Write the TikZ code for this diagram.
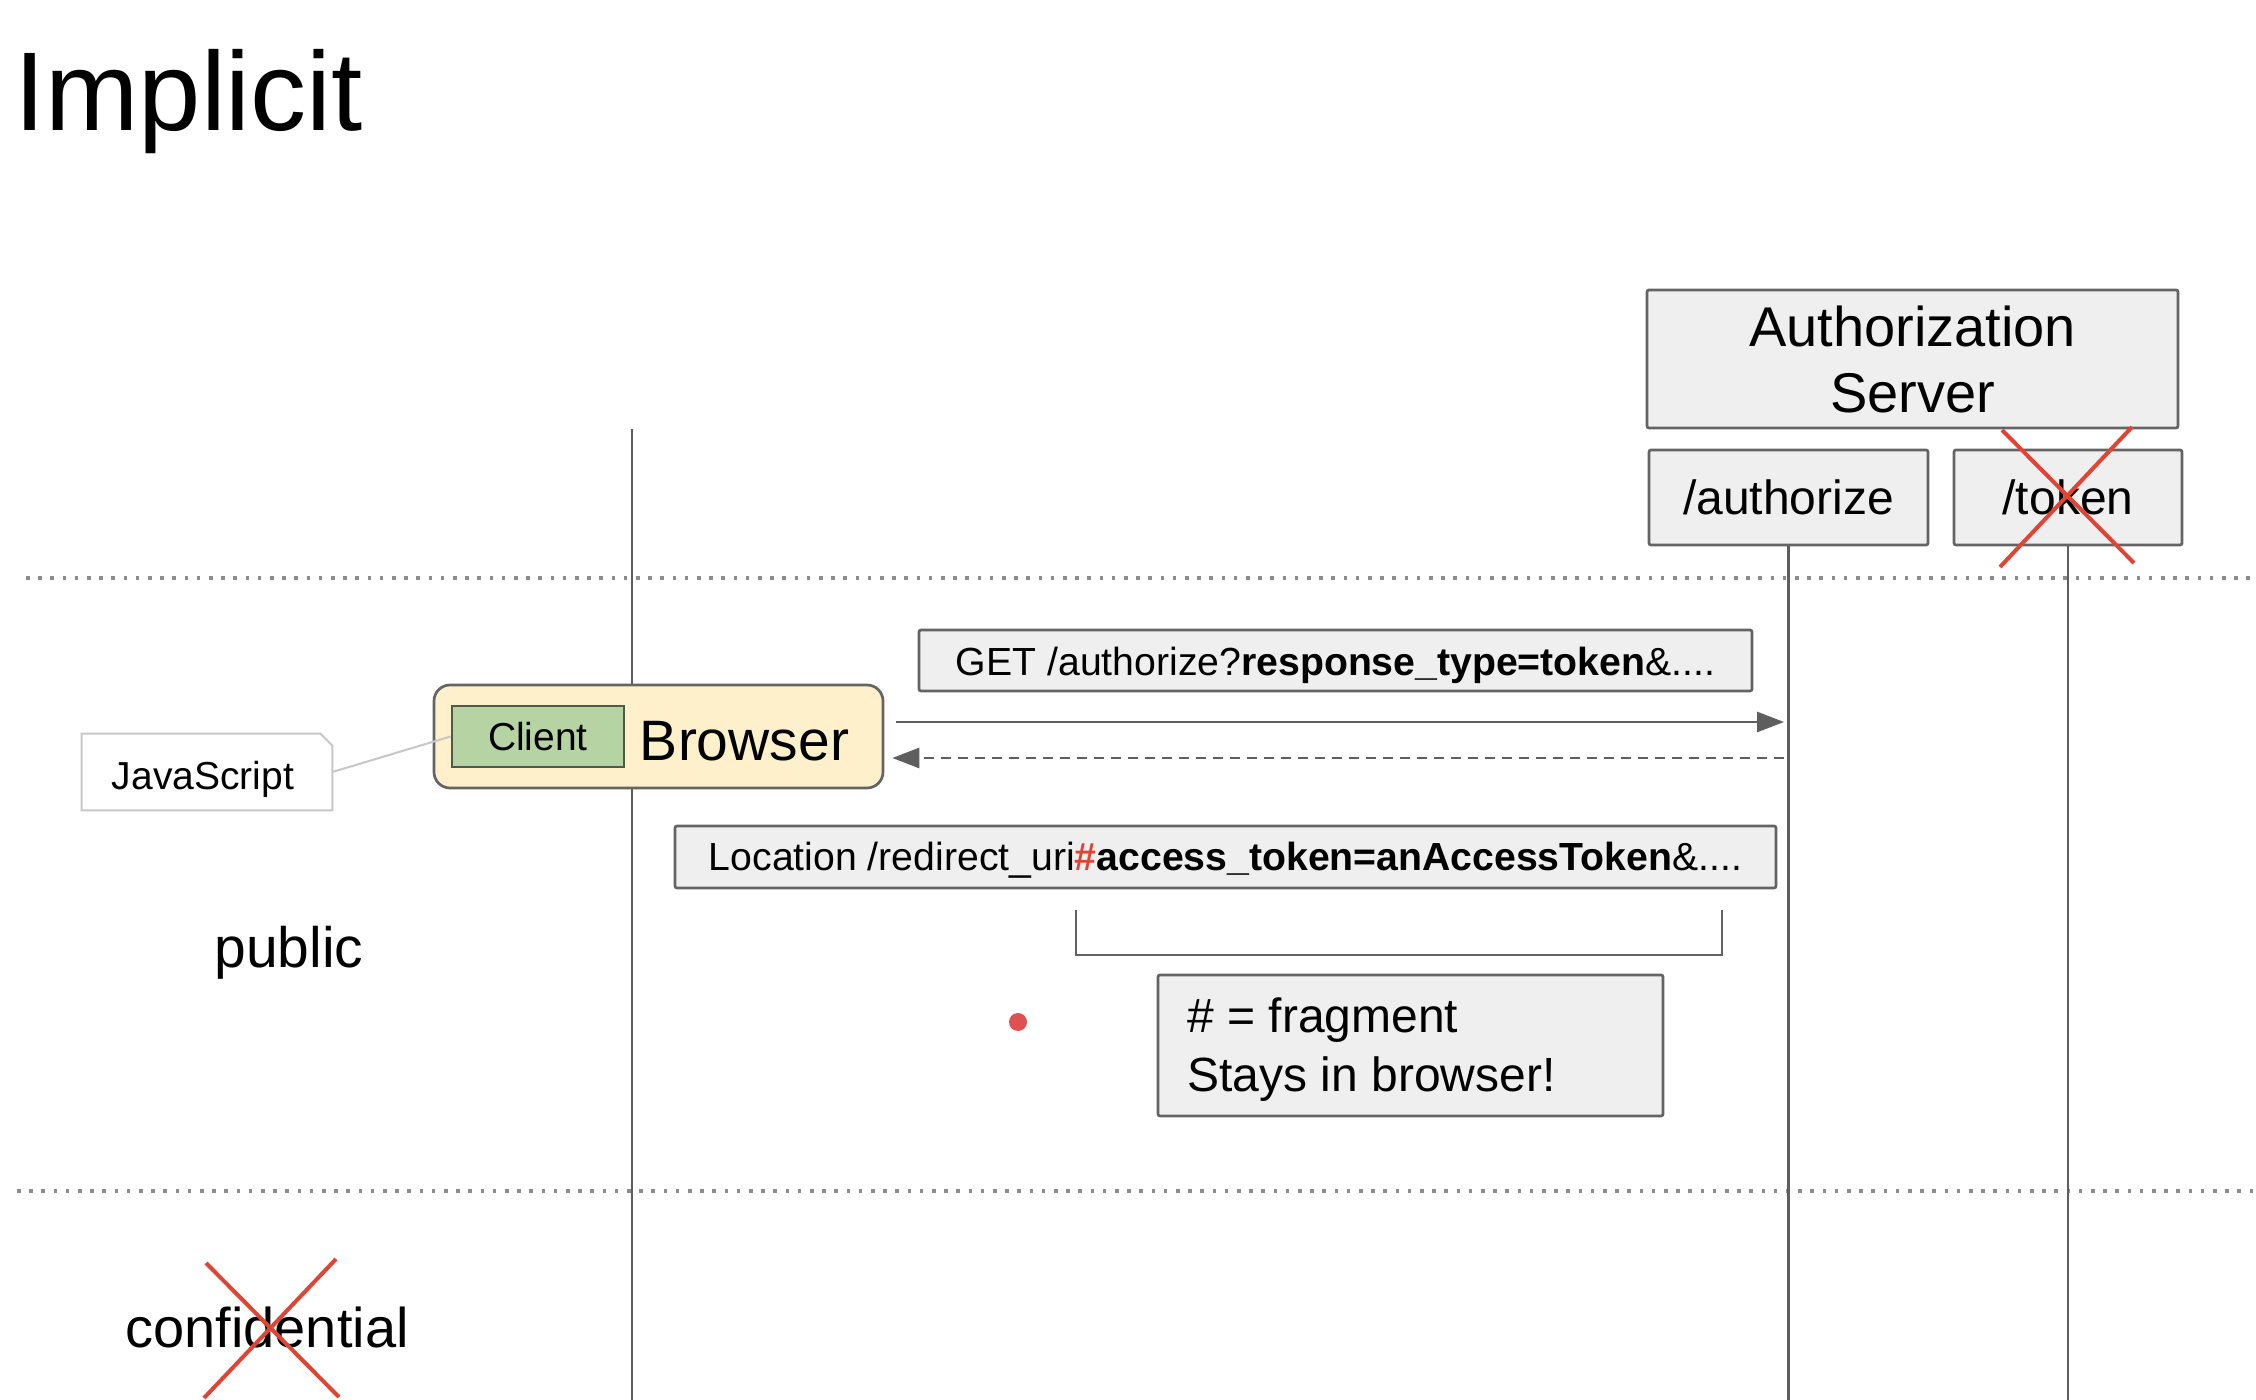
\documentclass[tikz,border=0pt]{standalone}
\usepackage{fontspec}
\setmainfont{Liberation Sans}
\usetikzlibrary{arrows.meta}
\definecolor{boxfill}{HTML}{EFEFEF}
\definecolor{boxline}{HTML}{646464}
\definecolor{browserfill}{HTML}{FDF0CB}
\definecolor{clientfill}{HTML}{B5D3A3}
\definecolor{clientline}{HTML}{4F5A4A}
\definecolor{crossred}{HTML}{E04434}
\definecolor{dotred}{HTML}{E05050}
\definecolor{lifecol}{HTML}{5E5E5E}
\definecolor{sepcol}{HTML}{8C8C8C}
\tikzset{
  graybox/.style={draw=boxline, fill=boxfill, line width=1.35pt, inner sep=0pt, rounded corners=1pt},
  lifeline/.style={draw=lifecol, line width=1.4pt},
  sepline/.style={draw=sepcol, line width=1.8pt, dash pattern=on 1.8pt off 4.3pt},
  msg/.style={draw=lifecol, line width=1.35pt, -{Triangle[length=13.5pt,width=10pt]}},
  dashmsg/.style={msg, dash pattern=on 5pt off 3.5pt},
  cross/.style={draw=crossred, line width=2pt},
  plain/.style={inner sep=0pt}
}
\begin{document}
\begin{tikzpicture}[x=0.5pt,y=-0.5pt]
\useasboundingbox (0,0) rectangle (2256,1400);
\fill[white] (0,0) rectangle (2256,1400);

% title
\node[plain, anchor=base west, font=\fontsize{56}{60}\selectfont] (title) at (14,131) {Implicit};

% separators
\coordinate (s1a) at (26,578);
\coordinate (s1b) at (2256,578);
\coordinate (s2a) at (17,1191);
\coordinate (s2b) at (2256,1191);
\draw[sepline] (s1a) -- (s1b);
\draw[sepline] (s2a) -- (s2b);

% server boxes
\node[graybox, minimum width=265.5pt, minimum height=69pt, align=center,
      font=\fontsize{28}{33}\selectfont] (auth) at (1912.5,359) {Authorization\\Server};
\node[graybox, minimum width=139.5pt, minimum height=47.5pt, text height=17.5pt, text depth=0pt,
      font=\fontsize{24}{28}\selectfont] (authz) at (1788.5,497.5) {/authorize};
\node[graybox, minimum width=114pt, minimum height=47.5pt, text height=17.5pt, text depth=0pt,
      font=\fontsize{24}{28}\selectfont] (token) at (2068,497.5) {/token};

% lifelines
\coordinate (btop) at (632,429);
\coordinate (bbot) at (632,1400);
\coordinate (azbot) at (1788.5,1400);
\coordinate (tkbot) at (2068,1400);
\draw[lifeline] (btop) -- (bbot);
\draw[lifeline] (authz.south) -- (azbot);
\draw[lifeline] (token.south) -- (tkbot);

% red cross over /token
\draw[cross] (2002,430) -- (2134,563);
\draw[cross] (2132,427) -- (2000,567);

% browser
\node[draw=boxline, fill=browserfill, line width=1.35pt, rounded corners=8pt,
      minimum width=224.5pt, minimum height=51.5pt, inner sep=0pt] (browser) at (658.5,736.5) {};
\node[draw=clientline, fill=clientfill, line width=1.35pt, inner sep=0pt,
      minimum width=86pt, minimum height=30.5pt, font=\fontsize{19.5}{22}\selectfont] (client) at (538,736.5) {Client};
\node[plain, anchor=base, font=\fontsize{28.5}{32}\selectfont] (browsertxt) at (744.5,761) {Browser};

% javascript note
\node[plain, minimum width=125pt, minimum height=38pt] (js) at (207,772) {};
\draw[draw=black!22, fill=white, line width=1pt] (js.north west) -- ([xshift=-6pt]js.north east)
  -- ([yshift=-6pt]js.north east) -- (js.south east) -- (js.south west) -- cycle;
\node[plain, anchor=base, font=\fontsize{19.5}{22}\selectfont] (jstxt) at (203,790) {JavaScript};
\draw[draw=black!22, line width=1pt] (js.east) -- (client.west);

% messages
\node[graybox, minimum width=416.5pt, minimum height=30.5pt, text height=16pt, text depth=0.5pt,
      font=\fontsize{19.6}{22}\selectfont] (get) at (1335.5,660.5)
      {GET /authorize?\textbf{response\_type=token}\&....};
\coordinate (req) at (1784,722);
\coordinate (resp) at (1784,758);
\draw[msg] ([xshift=6pt]browser.east |- req) -- (req);
\draw[dashmsg] (resp) -- ([xshift=4pt]browser.east |- resp);

\node[graybox, minimum width=550.5pt, minimum height=31pt, text height=15pt, text depth=1.3pt,
      font=\fontsize{19.6}{22}\selectfont] (loc) at (1225.5,857)
      {Location /redirect\_uri\textcolor{crossred}{\textbf{\#}}\textbf{access\_token=anAccessToken}\&....};

% bracket
\coordinate (br1) at (1076,910);
\coordinate (br2) at (1076,955);
\coordinate (br3) at (1722,955);
\coordinate (br4) at (1722,910);
\draw[draw=boxline, line width=1.35pt] (br1) -- (br2) -- (br3) -- (br4);

% red dot
\node[circle, fill=dotred, minimum size=9pt, inner sep=0pt] (dot) at (1018,1022) {};

% fragment note
\node[graybox, minimum width=252.5pt, minimum height=70.5pt] (note) at (1410.5,1045.5) {};
\node[plain, anchor=base west, font=\fontsize{24}{28.5}\selectfont] (notel1) at (1187,1033) {\# = fragment};
\node[plain, anchor=base west, font=\fontsize{24}{28.5}\selectfont] (notel2) at (1187,1092) {Stays in browser!};

% left labels
\node[plain, anchor=base, font=\fontsize{28.5}{32}\selectfont] (public) at (289,968) {public};
\node[plain, anchor=base, font=\fontsize{28}{32}\selectfont] (conf) at (267,1347) {confidential};
\draw[cross] (206,1263) -- (339,1397);
\draw[cross] (336,1259) -- (204,1398);
\end{tikzpicture}
\end{document}
